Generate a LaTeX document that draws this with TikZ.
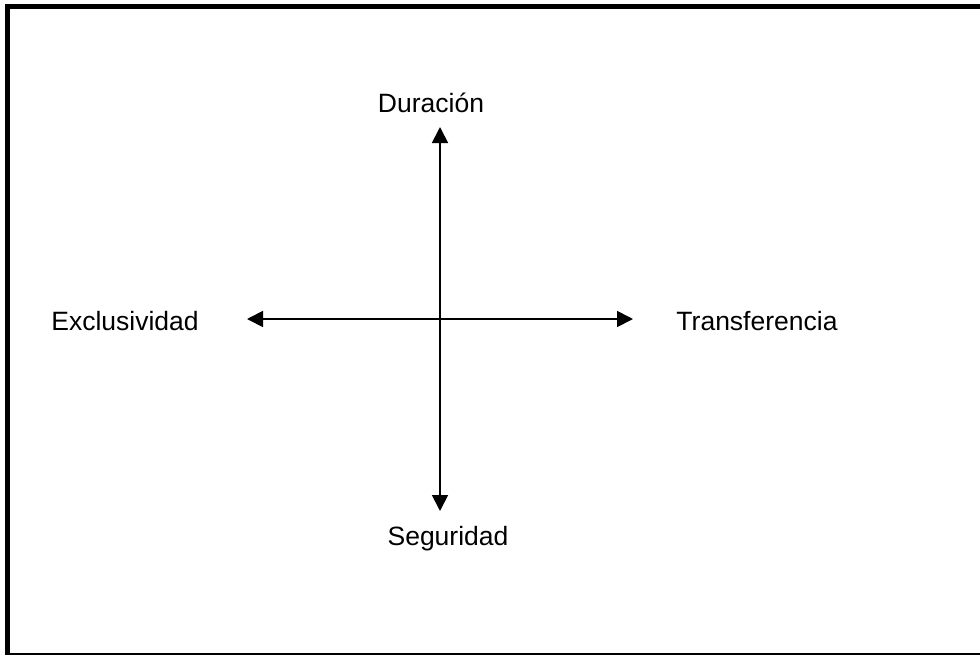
\documentclass[tikz,border=0pt]{standalone}
\usepackage{fontspec}
\setmainfont{Liberation Sans}
\usetikzlibrary{arrows.meta}
\begin{document}
\begin{tikzpicture}[x=1pt,y=-1pt,
  frame/.style={draw=black,line width=5pt},
  axis/.style={line width=1.8pt,{Triangle[length=16pt,width=16pt]}-{Triangle[length=16pt,width=16pt]}},
  lbl/.style={anchor=base,inner sep=0pt,font=\fontsize{26.5}{31}\selectfont}]
\useasboundingbox (0,0) rectangle (980,654);
\draw[frame] (7.5,6.5) rectangle (985,655.5);
\coordinate (top) at (440,127);
\coordinate (bot) at (440,511);
\coordinate (lft) at (247,319);
\coordinate (rgt) at (633,319);
\draw[axis] (top) -- (bot);
\draw[axis] (lft) -- (rgt);
\node[lbl] (dur) at (431,112) {Duración};
\node[lbl] (exc) at (125,330) {Exclusividad};
\node[lbl] (tra) at (757,330) {Transferencia};
\node[lbl] (seg) at (448,545) {Seguridad};
\end{tikzpicture}
\end{document}
